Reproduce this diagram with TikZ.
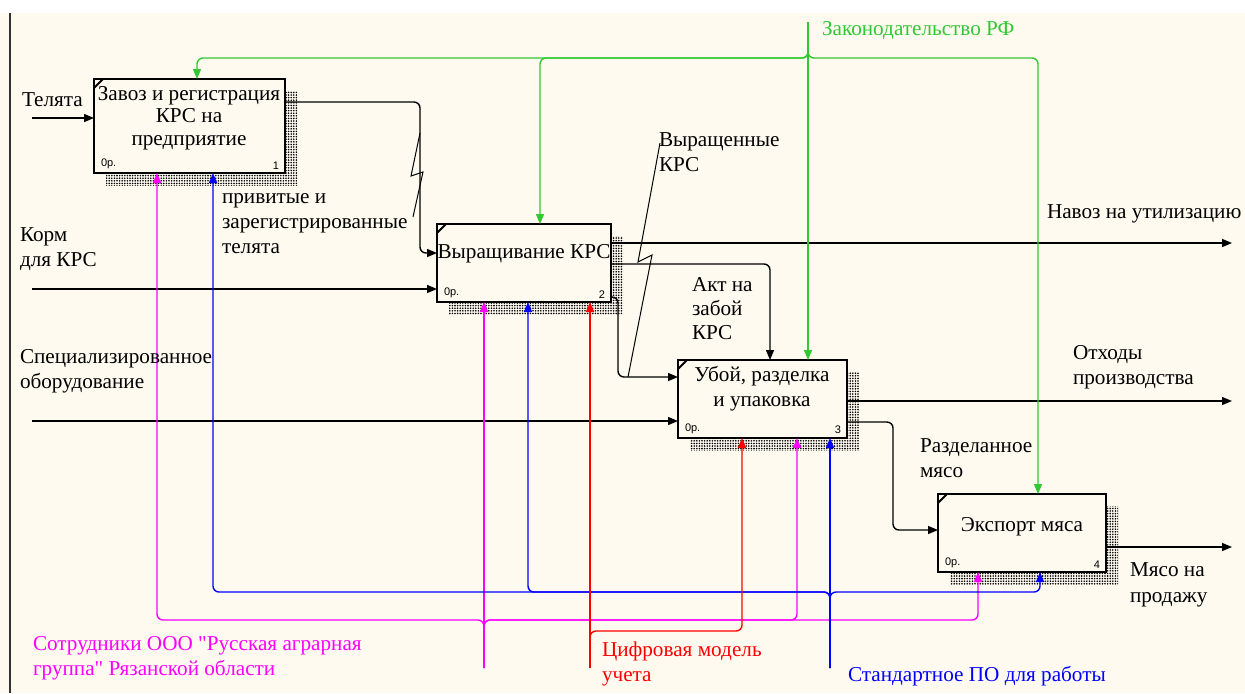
\documentclass[tikz,border=0pt]{standalone}
\usepackage{fontspec}
\setmainfont{Liberation Serif}[Ligatures=TeXOff]
\newfontfamily\smallsans{Liberation Sans}
\usetikzlibrary{arrows.meta,patterns.meta}
\definecolor{cream}{RGB}{254,250,240}
\definecolor{igreen}{RGB}{50,200,50}
\definecolor{imag}{RGB}{255,0,255}
\definecolor{iblue}{RGB}{0,0,255}
\definecolor{ired}{RGB}{255,0,0}
\begin{document}
\begin{tikzpicture}[x=0.5pt,y=-0.5pt,
  every node/.style={inner sep=0pt, outer sep=0pt},
  box/.style={draw=black, line width=1.3pt, fill=cream},
  shad/.style={pattern={Dots[distance=1.3pt,radius=0.45pt]}, pattern color=black},
  arr/.style={line width=0.7pt, rounded corners=3pt, -{Triangle[length=5pt,width=4pt]}},
  lab/.style={font=\fontsize{10.6}{12.5}\selectfont, align=left, anchor=north west},
  btext/.style={font=\fontsize{10.6}{11.25}\selectfont, align=center, anchor=north},
  tinyl/.style={font=\smallsans\fontsize{5.5}{6}\selectfont},
  squig/.style={line width=0.5pt},
  corner/.style={line width=1pt},
]
\useasboundingbox (0,0) rectangle (1245,693);
\fill[white] (0,0) rectangle (1245,13);
\fill[cream] (0,13) rectangle (1245,693);
\draw[black!80, line width=0.8pt] (10,13) -- (10,693);

% shadows
\fill[shad] (106,91) rectangle (297,185);
\fill[shad] (449,236) rectangle (623,314);
\fill[shad] (690,372) rectangle (859,450);
\fill[shad] (950,506) rectangle (1118,584);

% boxes
\node[box, minimum width=95.5pt, minimum height=47pt] (b1) at (189.5,126) {};
\node[box, minimum width=87pt, minimum height=39pt] (b2) at (524,263) {};
\node[box, minimum width=84.5pt, minimum height=39pt] (b3) at (762.5,399) {};
\node[box, minimum width=84pt, minimum height=39pt] (b4) at (1022,533) {};

\foreach \b in {b1,b2,b3,b4}{
  \draw[corner] ([yshift=-4.5pt]\b.north west) -- ([xshift=4.5pt]\b.north west);
}

\node[btext] (t1) at (189,86) {Завоз и регистрация\\КРС на\\предприятие};
\node[btext] (t2) at (524,244) {Выращивание КРС};
\node[btext, font=\fontsize{10.6}{12.5}\selectfont] (t3) at (762,366) {Убой, разделка\\и упаковка};
\node[btext] (t4) at (1022,517) {Экспорт мяса};

\node[tinyl, anchor=south west] (k1) at ([xshift=3.5pt,yshift=2pt]b1.south west) {0р.};
\node[tinyl, anchor=south east] (n1) at ([xshift=-3pt,yshift=2pt]b1.south east) {1};
\node[tinyl, anchor=south west] (k2) at ([xshift=3.5pt,yshift=2pt]b2.south west) {0р.};
\node[tinyl, anchor=south east] (n2) at ([xshift=-3pt,yshift=2pt]b2.south east) {2};
\node[tinyl, anchor=south west] (k3) at ([xshift=3.5pt,yshift=2pt]b3.south west) {0р.};
\node[tinyl, anchor=south east] (n3) at ([xshift=-3pt,yshift=2pt]b3.south east) {3};
\node[tinyl, anchor=south west] (k4) at ([xshift=3.5pt,yshift=2pt]b4.south west) {0р.};
\node[tinyl, anchor=south east] (n4) at ([xshift=-3pt,yshift=2pt]b4.south east) {4};

% inputs / outputs (black)
\coordinate (iTel) at (32,118);
\draw[arr] (iTel) -- ([yshift=-19.5pt]b1.north west);
\draw[arr] ([yshift=-11.5pt]b1.north east) -- ++(135,0) |- ([yshift=-14.5pt]b2.north west);
\coordinate (iKorm) at (32,289);
\draw[arr] (iKorm) -- ([yshift=-32.5pt]b2.north west);
\coordinate (oNav) at (1232,243);
\draw[arr] ([yshift=-9.5pt]b2.north east) -- (oNav);
\draw[arr] ([yshift=-20pt]b2.north east) -| ([xshift=46pt]b3.north west);
\draw[arr] ([yshift=-36.5pt]b2.north east) -- ++(7,0) |- ([yshift=-8.5pt]b3.north west);
\coordinate (iSpec) at (32,421);
\draw[arr] (iSpec) -- ([yshift=-30.5pt]b3.north west);
\coordinate (oOtx) at (1232,401);
\draw[arr] ([yshift=-20.5pt]b3.north east) -- (oOtx);
\draw[arr] ([yshift=-31pt]b3.north east) -- ++(46,0) |- ([yshift=-18pt]b4.north west);
\coordinate (oMyaso) at (1232,547);
\draw[arr] ([yshift=-26.5pt]b4.north east) -- (oMyaso);

% controls (green)
\coordinate (cZak) at (808,22);
\draw[arr, igreen] (cZak) -- ++(0,36) -| ([xshift=51.5pt]b1.north west);
\draw[arr, igreen] (cZak) -- ++(0,36) -| ([xshift=51.5pt]b2.north west);
\draw[arr, igreen] (cZak) -- ([xshift=65pt]b3.north west);
\draw[arr, igreen] (cZak) -- ++(0,36) -| ([xshift=50pt]b4.north west);

% mechanisms
\coordinate (mS) at (484,668);
\draw[arr, imag] (mS) -- ([xshift=23.5pt]b2.south west);
\draw[arr, imag] (mS) -- ++(0,-48) -| ([xshift=31.5pt]b1.south west);
\draw[arr, imag] (mS) -- ++(0,-48) -| ([xshift=59.5pt]b3.south west);
\draw[arr, imag] (mS) -- ++(0,-48) -| ([xshift=20pt]b4.south west);

\coordinate (bS) at (830,668);
\draw[arr, iblue] (bS) -- ([xshift=76pt]b3.south west);
\draw[arr, iblue] (bS) -- ++(0,-76) -| ([xshift=59.5pt]b1.south west);
\draw[arr, iblue] (bS) -- ++(0,-76) -| ([xshift=45.5pt]b2.south west);
\draw[arr, iblue] (bS) -- ++(0,-76) -| ([xshift=51pt]b4.south west);

\coordinate (rS) at (590,668);
\draw[arr, ired] (rS) -- ([xshift=76.5pt]b2.south west);
\draw[arr, ired] (rS) -- ++(0,-37) -| ([xshift=32pt]b3.south west);

% squiggles
\draw[squig] (413,217) -- (423,172) -- (411,176) -- (420,133);
\draw[squig] (628,377) -- (652,255) -- (638,262) -- (660,143);

% labels
\node[lab] (lTel) at (22,93) {Телята};
\node[lab] (lPriv) at (222,193) {привитые и\\зарегистрированные\\телята};
\node[lab] (lKorm) at (20,228) {Корм\\для КРС};
\node[lab] (lSpec) at (20,349) {Специализированное\\оборудование};
\node[lab] (lVyr) at (659,133) {Выращенные\\КРС};
\node[lab] (lNav) at (1047,205) {Навоз на утилизацию};
\node[lab, font=\fontsize{10.6}{12}\selectfont] (lAkt) at (692,277) {Акт на\\забой\\КРС};
\node[lab] (lOtx) at (1073,345) {Отходы\\производства};
\node[lab] (lRazd) at (920,439) {Разделанное\\мясо};
\node[lab, font=\fontsize{10.6}{13}\selectfont] (lMyaso) at (1130,563) {Мясо на\\продажу};
\node[lab, text=igreen] (lZak) at (822,21) {Законодательство РФ};
\node[lab, text=imag] (lSotr) at (33,636) {Сотрудники ООО "Русская аграрная\\группа" Рязанской области};
\node[lab, text=ired] (lCifr) at (602,642) {Цифровая модель\\учета};
\node[lab, text=iblue] (lStd) at (848,666) {Стандартное ПО для работы};
\end{tikzpicture}
\end{document}
